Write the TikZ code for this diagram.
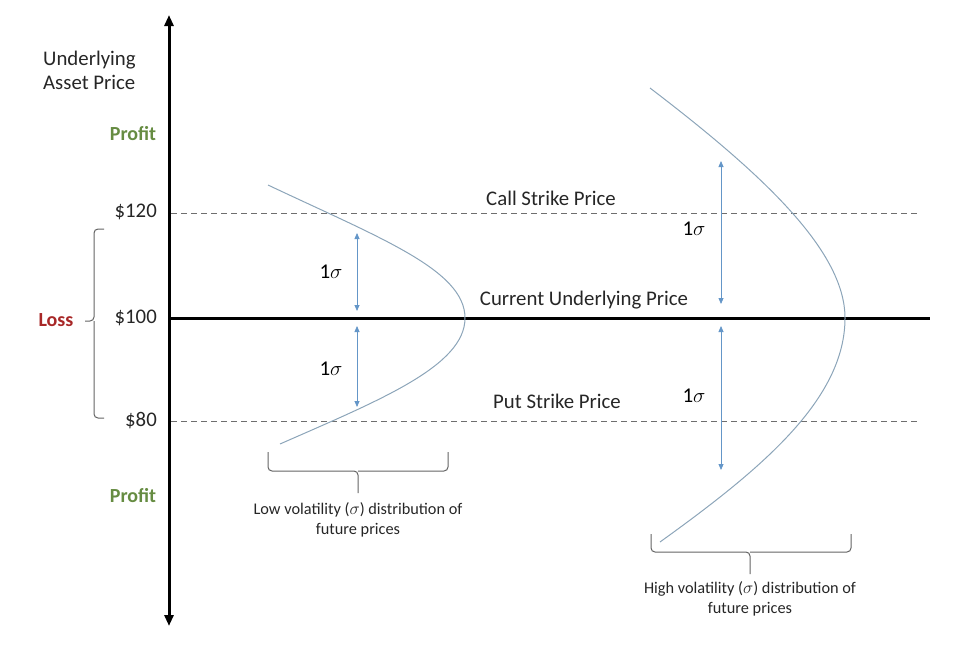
\documentclass[tikz,border=0pt]{standalone}
\usepackage{fontspec}
\setmainfont{Carlito}
\usetikzlibrary{arrows.meta}
\definecolor{profitgreen}{RGB}{102,140,66}
\definecolor{lossred}{RGB}{168,40,40}
\definecolor{sigblue}{RGB}{100,150,200}
\definecolor{curvegray}{RGB}{140,165,185}
\definecolor{dashgray}{RGB}{110,110,110}
\definecolor{bracegray}{RGB}{100,100,100}
\begin{document}
\begin{tikzpicture}[x=1pt,y=-1pt,
  lbl/.style={font=\fontsize{20.8}{24}\selectfont, inner sep=0pt, text=black!85},
  pl/.style={font=\fontsize{20}{24}\selectfont\bfseries, inner sep=0pt},
  sig/.style={font=\fontsize{21}{24}\selectfont, inner sep=0pt},
  capt/.style={font=\fontsize{16.3}{19.5}\selectfont, align=center, inner sep=0pt, text=black!85},
  axisline/.style={line width=3pt, {Triangle[width=9pt,length=11pt]}-{Triangle[width=9pt,length=11pt]}},
  strike/.style={dashgray, line width=1pt, dash pattern=on 6pt off 4pt},
  distcurve/.style={curvegray, line width=1pt},
  sigarrow/.style={sigblue, line width=0.8pt, {Triangle[width=5pt,length=6pt]}-{Triangle[width=5pt,length=6pt]}},
  bracepath/.style={bracegray, line width=1pt, rounded corners=4pt}]
\useasboundingbox (0,0) rectangle (976,648);

% axes
\coordinate (axtop) at (169,15);
\coordinate (axbot) at (169,626);
\draw[axisline] (axbot) -- (axtop);
\coordinate (curL) at (169,318);
\coordinate (curR) at (930,318);
\draw[line width=3pt] (curL) -- (curR);
\coordinate (callL) at (171,213);
\coordinate (callR) at (918,213);
\draw[strike] (callL) -- (callR);
\coordinate (putL) at (171,421);
\coordinate (putR) at (918,421);
\draw[strike] (putL) -- (putR);

% axis labels
\node[lbl, align=left, anchor=west] (ytitle) at (43,70) {Underlying\\Asset Price};
\node[pl, text=profitgreen] (profitTop) at (133,134) {Profit};
\node[pl, text=profitgreen] (profitBot) at (133,496) {Profit};
\node[pl, text=lossred] (loss) at (56,320) {Loss};
\node[lbl, anchor=east] (p120) at (157,212) {\$120};
\node[lbl, anchor=east] (p100) at (157,318) {\$100};
\node[lbl, anchor=east] (p80) at (157,421) {\$80};

% line labels
\node[lbl] (callLbl) at (551,198) {Call Strike Price};
\node[lbl] (curLbl) at (584,300) {Current Underlying Price};
\node[lbl] (putLbl) at (557,401) {Put Strike Price};

% left brace
\draw[bracepath] (104,229) -- (94,229) -- (94,321) -- (85,321);
\draw[bracepath] (104,418) -- (94,418) -- (94,321);

% low volatility curve
\coordinate (lowTop) at (268,185);
\coordinate (lowVertex) at (465,318);
\coordinate (lowBot) at (280,444);
\draw[distcurve] (lowTop) .. controls (380,238) and (465,270) .. (lowVertex)
  .. controls (465,366) and (380,400) .. (lowBot);

% high volatility curve
\coordinate (highTop) at (650,88);
\coordinate (highVertex) at (845,318);
\coordinate (highBot) at (660,542);
\draw[distcurve] (highTop) .. controls (760,172) and (845,250) .. (highVertex)
  .. controls (845,400) and (760,470) .. (highBot);

% sigma arrows
\coordinate (la1) at (357,233); \coordinate (la2) at (357,311);
\coordinate (la3) at (357,326); \coordinate (la4) at (357,407);
\draw[sigarrow] (la1) -- (la2);
\draw[sigarrow] (la3) -- (la4);
\coordinate (ha1) at (721,161); \coordinate (ha2) at (721,304);
\coordinate (ha3) at (721,326); \coordinate (ha4) at (721,470);
\draw[sigarrow] (ha1) -- (ha2);
\draw[sigarrow] (ha3) -- (ha4);
\node[sig] (ls1) at (331,272) {1$\sigma$};
\node[sig] (ls2) at (331,369) {1$\sigma$};
\node[sig] (hs1) at (694,229) {1$\sigma$};
\node[sig] (hs2) at (694,396) {1$\sigma$};

% bottom braces
\draw[bracepath] (268,452) -- (268,471) -- (358,471) -- (358,493);
\draw[bracepath] (448,452) -- (448,471) -- (358,471);
\draw[bracepath] (651,534) -- (651,552) -- (750,552) -- (750,574);
\draw[bracepath] (851,534) -- (851,552) -- (750,552);

\node[capt] (lowcap) at (358,520) {Low volatility ($\sigma$) distribution of\\future prices};
\node[capt] (highcap) at (750,599) {High volatility ($\sigma$) distribution of\\future prices};
\end{tikzpicture}
\end{document}
